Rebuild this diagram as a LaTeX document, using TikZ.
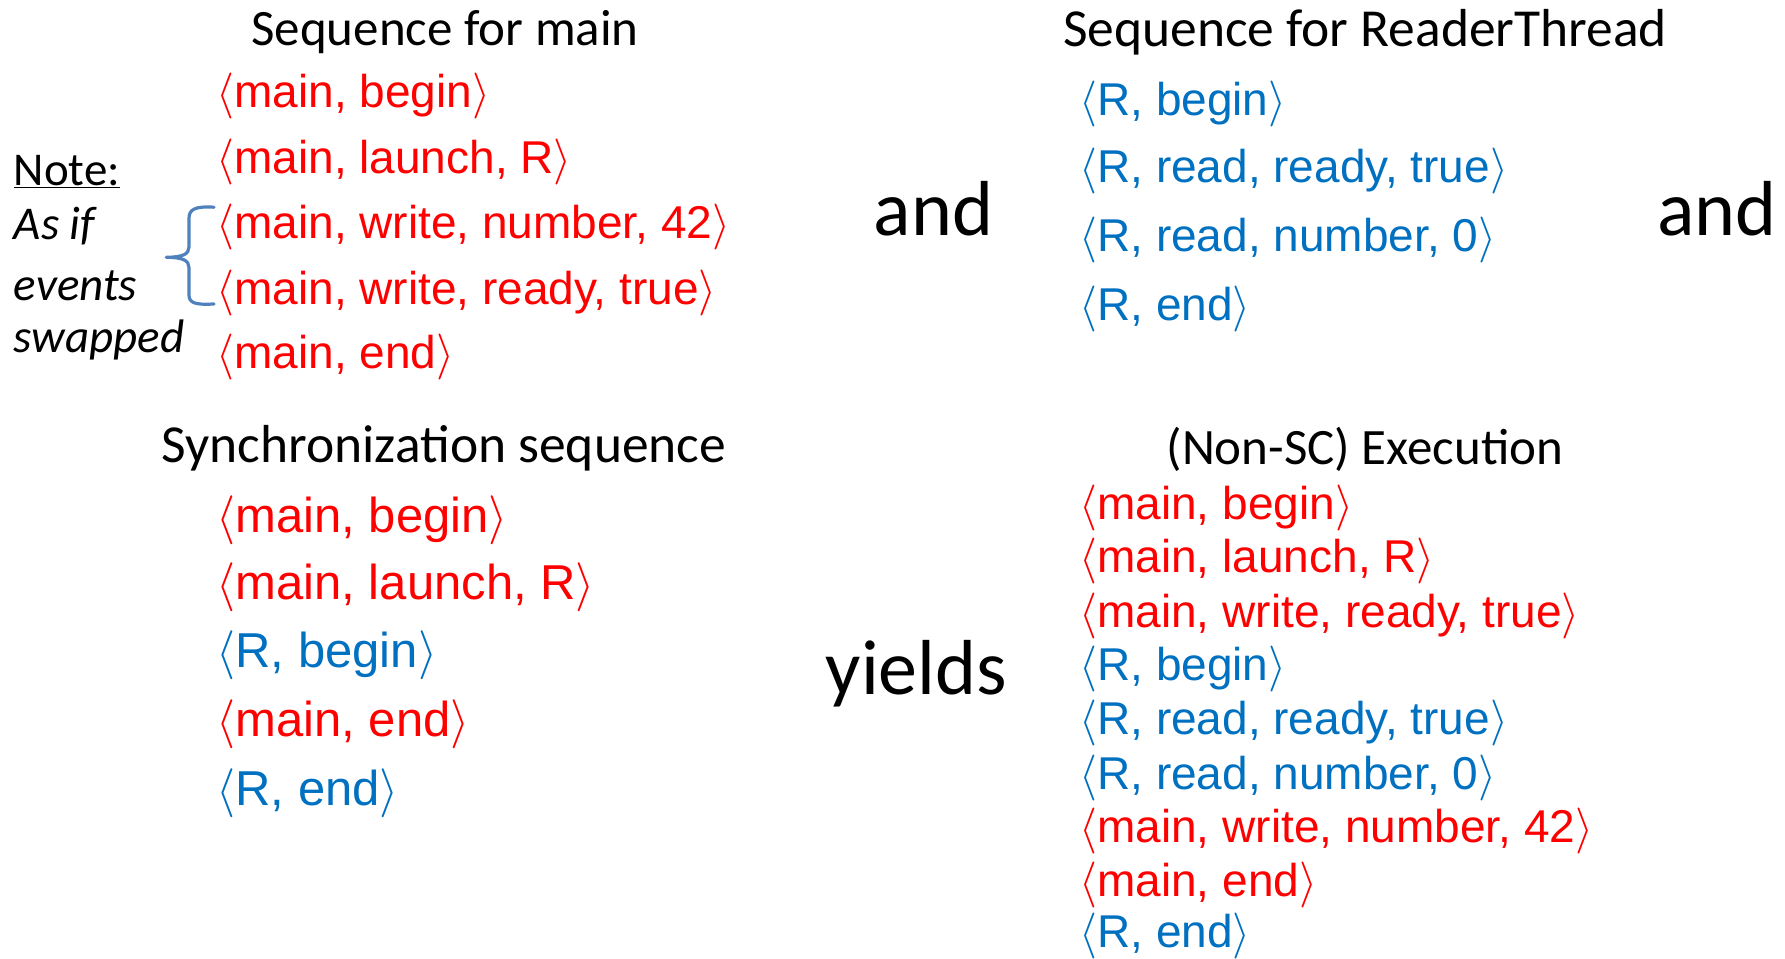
\documentclass[tikz,border=0pt]{standalone}
\usepackage{fontspec}
\DeclareFontShape{OMS}{cmsy}{m}{n}{<->cmsy10}{}
\newfontfamily\calibri{Carlito}
\newfontfamily\arial{Liberation Sans}
\definecolor{evred}{HTML}{FF0000}
\definecolor{evblue}{HTML}{0070C0}
\definecolor{bracecol}{HTML}{4F81BD}
\newcommand{\ev}[1]{$\langle$#1$\rangle$}
\begin{document}
\begin{tikzpicture}[x=1.1384pt,y=-1.1384pt,
  head/.style={font=\calibri\fontsize{51}{60}\selectfont, inner sep=0pt, anchor=center},
  headl/.style={font=\calibri\fontsize{53.5}{62}\selectfont, inner sep=0pt, anchor=center},
  bigword/.style={font=\calibri\fontsize{78}{90}\selectfont, inner sep=0pt, anchor=center},
  note/.style={font=\calibri\fontsize{47}{56}\selectfont\itshape, inner sep=0pt, anchor=west},
  evt/.style={font=\arial\fontsize{46}{52}\selectfont, inner sep=0pt, anchor=west},
  evtb/.style={font=\arial\fontsize{49}{56}\selectfont, inner sep=0pt, anchor=west},
  rd/.style={text=evred},
  bl/.style={text=evblue},
  bracestyle/.style={draw=bracecol, line width=3.2pt, line cap=round, line join=round}
]
\useasboundingbox (0,0) rectangle (1568,842);

% Top-left: Sequence for main
\node[head] (h1) at (391,28) {Sequence for main};
\node[evt,rd] (m1) at (190,84) {\ev{main, begin}};
\node[evt,rd] (m2) at (190,142) {\ev{main, launch, R}};
\node[evt,rd] (m3) at (190,199) {\ev{main, write, number, 42}};
\node[evt,rd] (m4) at (190,257) {\ev{main, write, ready, true}};
\node[evt,rd] (m5) at (190,314) {\ev{main, end}};

% Note
\node[note,font=\calibri\fontsize{47}{56}\selectfont] (n1) at (12,151) {\underline{Note:}};
\node[note] (n2) at (12,199) {As if};
\node[note] (n3) at (12,251) {events};
\node[note] (n4) at (12,299) {swapped};

% Brace
\coordinate (bt) at (188,182);
\coordinate (bm) at (146,226);
\coordinate (bb) at (188,267);
\draw[bracestyle] (bt) .. controls (171,181) and (166,184) .. (166,192) -- (166,217)
  .. controls (166,223) and (161,226) .. (bm)
  .. controls (161,226) and (166,229) .. (166,235) -- (166,259)
  .. controls (166,266) and (171,268) .. (bb);

% and
\node[bigword] (and1) at (820,183) {and};
\node[bigword] (and2) at (1508,183) {and};

% Top-right: Sequence for ReaderThread
\node[headl] (h2) at (1199,28) {Sequence for ReaderThread};
\node[evt,bl] (r1) at (948,91) {\ev{R, begin}};
\node[evt,bl] (r2) at (948,150) {\ev{R, read, ready, true}};
\node[evt,bl] (r3) at (948,211) {\ev{R, read, number, 0}};
\node[evt,bl] (r4) at (948,271) {\ev{R, end}};

% Bottom-left: Synchronization sequence
\node[headl] (h3) at (390,394) {Synchronization sequence};
\node[evtb,rd] (s1) at (190,457) {\ev{main, begin}};
\node[evtb,rd] (s2) at (190,516) {\ev{main, launch, R}};
\node[evtb,bl] (s3) at (190,576) {\ev{R, begin}};
\node[evtb,rd] (s4) at (190,636) {\ev{main, end}};
\node[evtb,bl] (s5) at (190,697) {\ev{R, end}};

% yields
\node[bigword] (yields) at (805,592) {yields};

% Bottom-right: (Non-SC) Execution
\node[head] (h4) at (1199,395) {(Non-SC) Execution};
\node[evt,rd] (e1) at (948,446) {\ev{main, begin}};
\node[evt,rd] (e2) at (948,493) {\ev{main, launch, R}};
\node[evt,rd] (e3) at (948,541) {\ev{main, write, ready, true}};
\node[evt,bl] (e4) at (948,588) {\ev{R, begin}};
\node[evt,bl] (e5) at (948,635) {\ev{R, read, ready, true}};
\node[evt,bl] (e6) at (948,683) {\ev{R, read, number, 0}};
\node[evt,rd] (e7) at (948,730) {\ev{main, write, number, 42}};
\node[evt,rd] (e8) at (948,777) {\ev{main, end}};
\node[evt,bl] (e9) at (948,822) {\ev{R, end}};
\end{tikzpicture}
\end{document}
